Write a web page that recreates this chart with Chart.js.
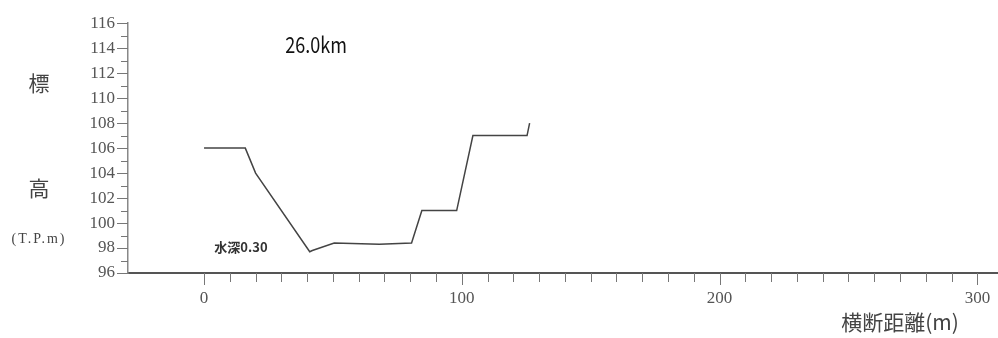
<!DOCTYPE html>
<html>
<head>
<meta charset="utf-8">
<script src="https://cdn.jsdelivr.net/npm/chart.js@4.4.1/dist/chart.umd.min.js"></script>
<style>
  html, body { margin: 0; padding: 0; background: #fff; }
</style>
</head>
<body>
<canvas id="chart" width="998" height="338"></canvas>
<script>
// cross-section profile, distance (m) vs elevation (T.P.m)
const distances = [0, 16, 20, 41, 42, 50.5, 68, 80.5, 84.5, 98, 104.3, 125.3, 126.3]
const elevations = [106, 106, 104, 97.7, 97.8, 98.4, 98.3, 98.4, 101, 101, 107, 107, 108]

const xTickLabels = [0, 100, 200, 300]
const yTickLabels = [96, 98, 100, 102, 104, 106, 108, 110, 112, 114, 116]

const stationLabel = '26.0km'
const depthLabel = '水深0.30'
const depthAt = [4, 98.1]
const stationAt = [31.5, 114.3]

const serif = "'Liberation Serif', 'DejaVu Serif', serif"
const gothic = "'Noto Sans CJK JP', 'Noto Sans', sans-serif"

const points = distances.map((d, i) => ({ x: d, y: elevations[i] }))

// short / long tick marks along both axes
const tickMarks = {
    id: 'tickMarks',
    afterDraw(chart) {
        const { ctx, chartArea } = chart
        const x = chart.scales.x
        const y = chart.scales.y
        ctx.save()
        ctx.lineWidth = 1
        ctx.strokeStyle = '#777'
        x.ticks.forEach((t) => {
            if (t.value < 0) return
            const px = Math.round(x.getPixelForValue(t.value)) + 0.5
            const len = t.value % 100 === 0 ? 12 : 9
            ctx.beginPath()
            ctx.moveTo(px, chartArea.bottom)
            ctx.lineTo(px, chartArea.bottom + len)
            ctx.stroke()
        })
        y.ticks.forEach((t) => {
            const py = Math.round(y.getPixelForValue(t.value)) + 0.5
            const len = t.value % 2 === 0 ? 11 : 7
            ctx.beginPath()
            ctx.moveTo(chartArea.left, py)
            ctx.lineTo(chartArea.left - len, py)
            ctx.stroke()
        })
        ctx.restore()
    }
}

// axis titles and the two notes
const labels = {
    id: 'labels',
    afterDraw(chart) {
        const { ctx } = chart
        const x = chart.scales.x
        const y = chart.scales.y
        ctx.save()
        ctx.fillStyle = '#444'
        ctx.textAlign = 'center'
        ctx.textBaseline = 'middle'
        ctx.font = '21px ' + gothic
        ctx.fillText('標', 39, 83)
        ctx.fillText('高', 39, 188)
        ctx.font = '14px ' + serif
        ctx.letterSpacing = '2px'
        ctx.fillText('(T.P.m)', 39, 239)
        ctx.letterSpacing = '0px'
        ctx.font = '21px ' + gothic
        ctx.fillText('横断距離(m)', 900, 322)

        ctx.fillStyle = '#111'
        ctx.textAlign = 'left'
        ctx.save()
        ctx.translate(x.getPixelForValue(stationAt[0]), y.getPixelForValue(stationAt[1]))
        ctx.scale(0.82, 1)
        ctx.font = '22px ' + gothic
        ctx.fillText(stationLabel, 0, 0)
        ctx.restore()

        ctx.fillStyle = '#333'
        ctx.font = 'bold 13px ' + gothic
        ctx.fillText(depthLabel, x.getPixelForValue(depthAt[0]), y.getPixelForValue(depthAt[1]))
        ctx.restore()
    }
}

new Chart(document.getElementById('chart'), {
    type: 'scatter',
    data: {
        datasets: [
            {
                data: points,
                showLine: true,
                borderColor: '#444',
                borderWidth: 1.5,
                pointRadius: 0,
                tension: 0
            }
        ]
    },
    options: {
        responsive: false,
        animation: false,
        layout: { padding: { top: 17, right: 0, left: 0, bottom: 0 } },
        plugins: {
            legend: { display: false },
            tooltip: { enabled: false }
        },
        scales: {
            x: {
                type: 'linear',
                min: -29.5,
                max: 308,
                afterFit: (scale) => {
                    scale.height = 65
                    scale.paddingRight = 0
                    scale.paddingLeft = 0
                },
                grid: { display: true, drawOnChartArea: false, drawTicks: false },
                border: { display: true, color: '#555', width: 2 },
                ticks: {
                    stepSize: 10,
                    includeBounds: false,
                    autoSkip: false,
                    maxRotation: 0,
                    padding: 15,
                    color: '#555',
                    font: { family: serif, size: 17 },
                    callback: (v) => xTickLabels.includes(v) ? String(v) : ''
                }
            },
            y: {
                type: 'linear',
                min: 96,
                max: 116,
                afterFit: (scale) => { scale.width = 128 },
                grid: { display: true, drawOnChartArea: false, drawTicks: false },
                border: { display: true, color: '#888', width: 1.5 },
                ticks: {
                    stepSize: 1,
                    autoSkip: false,
                    padding: 13,
                    color: '#555',
                    font: { family: serif, size: 17 },
                    callback: (v) => yTickLabels.includes(v) ? String(v) : ''
                }
            }
        }
    },
    plugins: [tickMarks, labels]
})
</script>
</body>
</html>
